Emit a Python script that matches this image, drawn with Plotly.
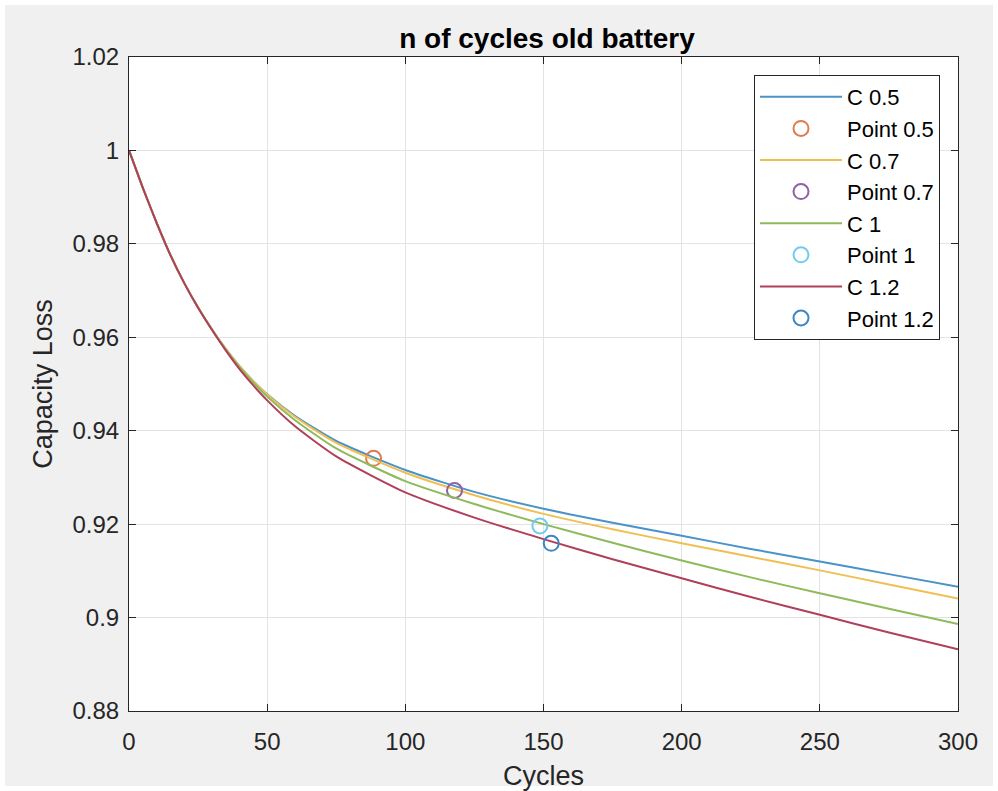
import plotly.graph_objects as go

# Cycle samples and capacity curves for each C-rate
cycles = [0, 5, 10, 15, 20, 25, 30, 35, 40, 45, 50, 60, 75, 100, 125, 150, 175, 200, 225, 250, 275, 300]
cap_c05 = [1.0, 0.9920, 0.9845, 0.9776, 0.9716, 0.9664, 0.9617, 0.9575, 0.9538, 0.9506, 0.9478,
           0.9432, 0.9378, 0.9316, 0.9269, 0.9233, 0.9203, 0.9175, 0.9147, 0.9120, 0.9093, 0.9066]
cap_c07 = [1.0, 0.9920, 0.9845, 0.9776, 0.9716, 0.9664, 0.9617, 0.9575, 0.9538, 0.9506, 0.9477,
           0.9430, 0.9374, 0.9310, 0.9262, 0.9222, 0.9189, 0.9159, 0.9130, 0.9101, 0.9071, 0.9041]
cap_c1 = [1.0, 0.9920, 0.9845, 0.9776, 0.9716, 0.9664, 0.9617, 0.9574, 0.9536, 0.9503, 0.9473,
          0.9423, 0.9362, 0.9292, 0.9243, 0.9200, 0.9160, 0.9122, 0.9086, 0.9052, 0.9019, 0.8986]
cap_c12 = [1.0, 0.9920, 0.9845, 0.9776, 0.9716, 0.9663, 0.9616, 0.9572, 0.9532, 0.9497, 0.9465,
           0.9410, 0.9345, 0.9268, 0.9214, 0.9168, 0.9125, 0.9084, 0.9044, 0.9006, 0.8968, 0.8932]

# Marked operating points
point_labels = ["Point 0.5", "Point 0.7", "Point 1", "Point 1.2"]
point_x = [88.5, 117.8, 148.7, 152.8]
point_y = [0.9341, 0.9272, 0.9196, 0.9159]

curve_labels = ["C 0.5", "C 0.7", "C 1", "C 1.2"]
curves = [cap_c05, cap_c07, cap_c1, cap_c12]
curve_colors = ["#4a93c8", "#efbf52", "#8dba5a", "#b0405a"]
point_colors = ["#e07a50", "#9360a3", "#72cbef", "#3c86c2"]

x_ticks = [0, 50, 100, 150, 200, 250, 300]
y_ticks = [0.88, 0.9, 0.92, 0.94, 0.96, 0.98, 1.0, 1.02]
y_tick_text = ["0.88", "0.9", "0.92", "0.94", "0.96", "0.98", "1", "1.02"]

FONT = "Liberation Sans, Arial, sans-serif"
W, H = 998, 791
ML, MR, MT, MB = 129, 40, 57, 80
PW, PH = W - ML - MR, H - MT - MB

fig = go.Figure()
for lbl, ys, col, plbl, px, py, pcol in zip(curve_labels, curves, curve_colors,
                                           point_labels, point_x, point_y, point_colors):
    fig.add_trace(go.Scatter(x=cycles, y=ys, mode="lines", name=lbl,
                             line=dict(color=col, width=2, shape="spline", smoothing=0.6)))
    fig.add_trace(go.Scatter(x=[px], y=[py], mode="markers", name=plbl,
                             marker=dict(symbol="circle-open", size=15, color=pcol,
                                         line=dict(width=2, color=pcol))))

axis_common = dict(showline=True, linecolor="#262626", linewidth=1, mirror="ticks",
                   ticks="inside", ticklen=7, tickcolor="#262626", automargin=False,
                   showgrid=True, gridcolor="#e3e3e3", gridwidth=1, zeroline=False,
                   tickfont=dict(family=FONT, size=24, color="#262626"))

# thin white frame around the grey figure background
frame = dict(type="rect", xref="paper", yref="paper",
             x0=-ML / PW, x1=(W - ML) / PW, y0=-MB / PH, y1=(H - MB) / PH,
             line=dict(color="white", width=10), fillcolor="rgba(0,0,0,0)")

fig.update_layout(
    width=W, height=H,
    margin=dict(l=ML, r=MR, t=MT, b=MB),
    paper_bgcolor="#f0f0f0", plot_bgcolor="white",
    font=dict(family=FONT, color="#262626"),
    title=dict(text="<b>n of cycles old battery</b>", x=547 / W, xanchor="center",
               y=1 - 38 / H, yanchor="middle",
               font=dict(size=28, color="#000000")),
    xaxis=dict(range=[0, 300], tickvals=x_ticks, ticklabelstandoff=9,
               title=dict(text="Cycles", font=dict(size=27, color="#262626"), standoff=14),
               **axis_common),
    yaxis=dict(range=[0.88, 1.02], tickvals=y_ticks, ticktext=y_tick_text, ticklabelstandoff=4,
               title=dict(text="Capacity Loss", font=dict(size=27, color="#262626"), standoff=12),
               **axis_common),
    legend=dict(x=(940 - ML) / PW, xanchor="right", y=(711 - 75) / PH, yanchor="top",
                bgcolor="white", bordercolor="#262626", borderwidth=1,
                font=dict(size=22, color="#000000"), tracegroupgap=0,
                itemwidth=82),
    shapes=[frame],
    showlegend=True,
)

fig.write_html("out.html")
